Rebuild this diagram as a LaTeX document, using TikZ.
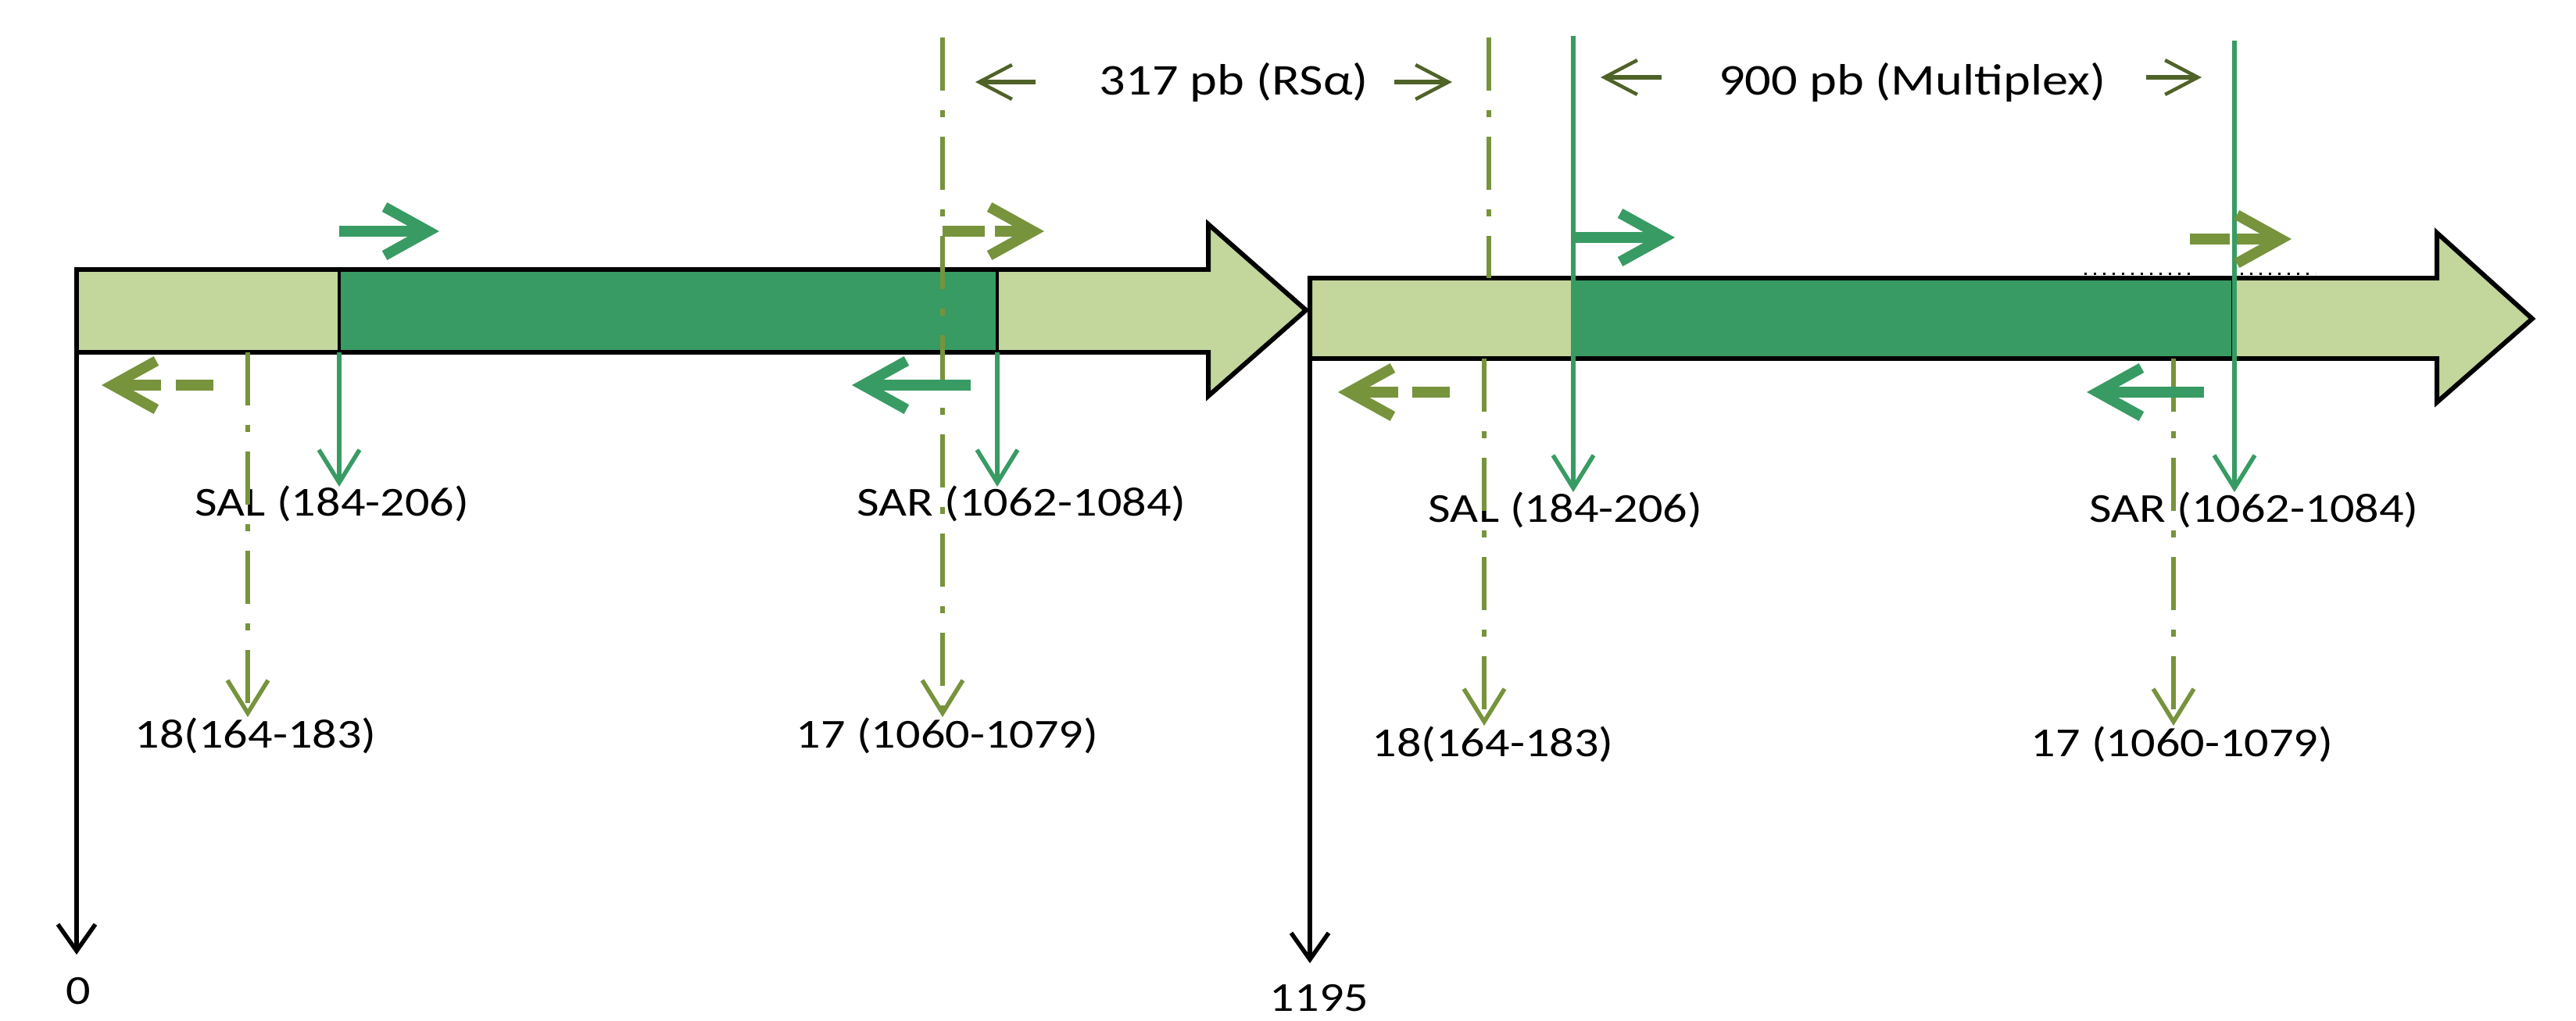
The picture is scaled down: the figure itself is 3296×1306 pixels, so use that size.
\documentclass[tikz,border=0pt]{standalone}
\usepackage{fontspec}
\setmainfont{Carlito}[FakeStretch=1.18]
\usetikzlibrary{arrows.meta}
\definecolor{bandlight}{HTML}{C3D69B}
\definecolor{banddark}{HTML}{389B63}
\definecolor{primgreen}{HTML}{389B63}
\definecolor{primolive}{HTML}{77933C}
\definecolor{dimolive}{HTML}{4F6228}
\begin{document}
\begin{tikzpicture}[x=0.1mm,y=-0.1mm,
  bandline/.style={draw=black,line width=1.7pt,line join=miter},
  divider/.style={draw=black,line width=1.1pt},
  fatarrow/.style={line width=1.35mm,-{Straight Barb[length=5.6mm,width=6.2mm]}},
  fatsolid/.style={fatarrow,draw=primgreen},
  fatdash/.style={fatarrow,draw=primolive},
  thinarrow/.style={line width=0.55mm,-{Straight Barb[length=4.2mm,width=5.2mm]}},
  salsar/.style={thinarrow,draw=primgreen},
  dashdot/.style={draw=primolive,line width=0.55mm,dash pattern=on 6.8mm off 2.5mm on 0.9mm off 2.5mm},
  primer/.style={thinarrow,dashdot},
  axisline/.style={draw=black,line width=0.55mm,-{Straight Barb[length=3.4mm,width=4.8mm]}},
  dimarrow/.style={draw=dimolive,line width=0.65mm,-{Straight Barb[length=4.2mm,width=4.4mm,line width=0.45mm]}},
  lab/.style={font=\fontsize{15pt}{18pt}\selectfont,anchor=base,inner sep=0pt},
  dimlab/.style={font=\fontsize{16pt}{19pt}\selectfont,anchor=base,inner sep=0pt},
]
\useasboundingbox (0,0) rectangle (3296,1306);

% ---------- first repeat unit (0 - 1195) ----------
\fill[bandlight] (98,345) rectangle (434,451);
\fill[banddark] (434,345) rectangle (1276,451);
\fill[bandlight] (1276,345) -- (1546,345) -- (1546,287) -- (1671,397) -- (1546,507) -- (1546,451) -- (1276,451) -- cycle;
\draw[divider] (434,345) -- (434,451) (1276,345) -- (1276,451);
\draw[bandline] (98,345) -- (1546,345) -- (1546,287) -- (1671,397) -- (1546,507) -- (1546,451) -- (98,451) -- cycle;

% ---------- second repeat unit ----------
\fill[bandlight] (1676,356) rectangle (2012,459);
\fill[banddark] (2012,356) rectangle (2857,459);
\fill[bandlight] (2857,356) -- (3118,356) -- (3118,298) -- (3240,408) -- (3118,515) -- (3118,459) -- (2857,459) -- cycle;
\draw[divider] (2012,356) -- (2012,459) (2857,356) -- (2857,459);
\draw[bandline] (1676,356) -- (3118,356) -- (3118,298) -- (3240,408) -- (3118,515) -- (3118,459) -- (1676,459) -- cycle;
\draw[line width=0.3mm,dash pattern=on 0.25mm off 0.95mm] (2667,350) -- (2808,350) (2867,350) -- (2963,350);

% ---------- position axes ----------
\draw[axisline] (98,451) -- (98,1222);
\node[lab] (pos0) at (100,1285) {0};
\draw[axisline] (1676,459) -- (1676,1233);
\node[lab] (pos1195) at (1688,1294) {1195};

% ---------- labels ----------
\node[lab] (salA) at (425,660) {SAL (184-206)};
\node[lab] (sarA) at (1307,660) {SAR (1062-1084)};
\node[lab] (p18A) at (327,957) {18(164-183)};
\node[lab] (p17A) at (1212,957) {17 (1060-1079)};
\node[lab] (salB) at (2003,668) {SAL (184-206)};
\node[lab] (sarB) at (2884,668) {SAR (1062-1084)};
\node[lab] (p18B) at (1910,968) {18(164-183)};
\node[lab] (p17B) at (2792,968) {17 (1060-1079)};

% ---------- primer positions, first unit ----------
\draw[salsar] (434,451) -- (434,623);
\draw[salsar] (1276,451) -- (1276,623);
\draw[primer] (317,451) -- (317,918);
\draw[primer] (1206,48) -- (1206,918);

% ---------- primer positions, second unit ----------
\draw[salsar] (2013,46) -- (2013,630);
\draw[salsar] (2859,52) -- (2859,630);
\draw[dashdot] (1905,48) -- (1905,356);
\draw[primer] (1899,459) -- (1899,929);
\draw[primer] (2781,459) -- (2781,929);

% ---------- primer orientation arrows ----------
\draw[fatsolid] (434,296) -- (562,296);
\draw[fatdash,dash pattern=on 5.4mm off 1.3mm on 20mm] (1206,296) -- (1336,296);
\draw[fatdash,dash pattern=on 4.8mm off 1.9mm on 20mm] (273,493) -- (130,493);
\draw[fatsolid] (1242,493) -- (1090,493);

\draw[fatsolid] (2013,304) -- (2143,304);
\draw[fatdash,dash pattern=on 5.1mm off 0.9mm on 20mm] (2802,306) -- (2932,306);
\draw[fatdash,dash pattern=on 4.8mm off 1.8mm on 20mm] (1855,502) -- (1712,502);
\draw[fatsolid] (2820,502) -- (2670,502);

% ---------- amplicon sizes ----------
\draw[dimarrow] (1325,105) -- (1248,105);
\draw[dimarrow] (1784,105) -- (1858,105);
\node[dimlab] (rsa) at (1579,121) {317 pb (RSα)};
\draw[dimarrow] (2126,99) -- (2048,99);
\draw[dimarrow] (2746,99) -- (2817,99);
\node[dimlab] (mplex) at (2447,121) {900 pb (Multiplex)};
\end{tikzpicture}
\end{document}
